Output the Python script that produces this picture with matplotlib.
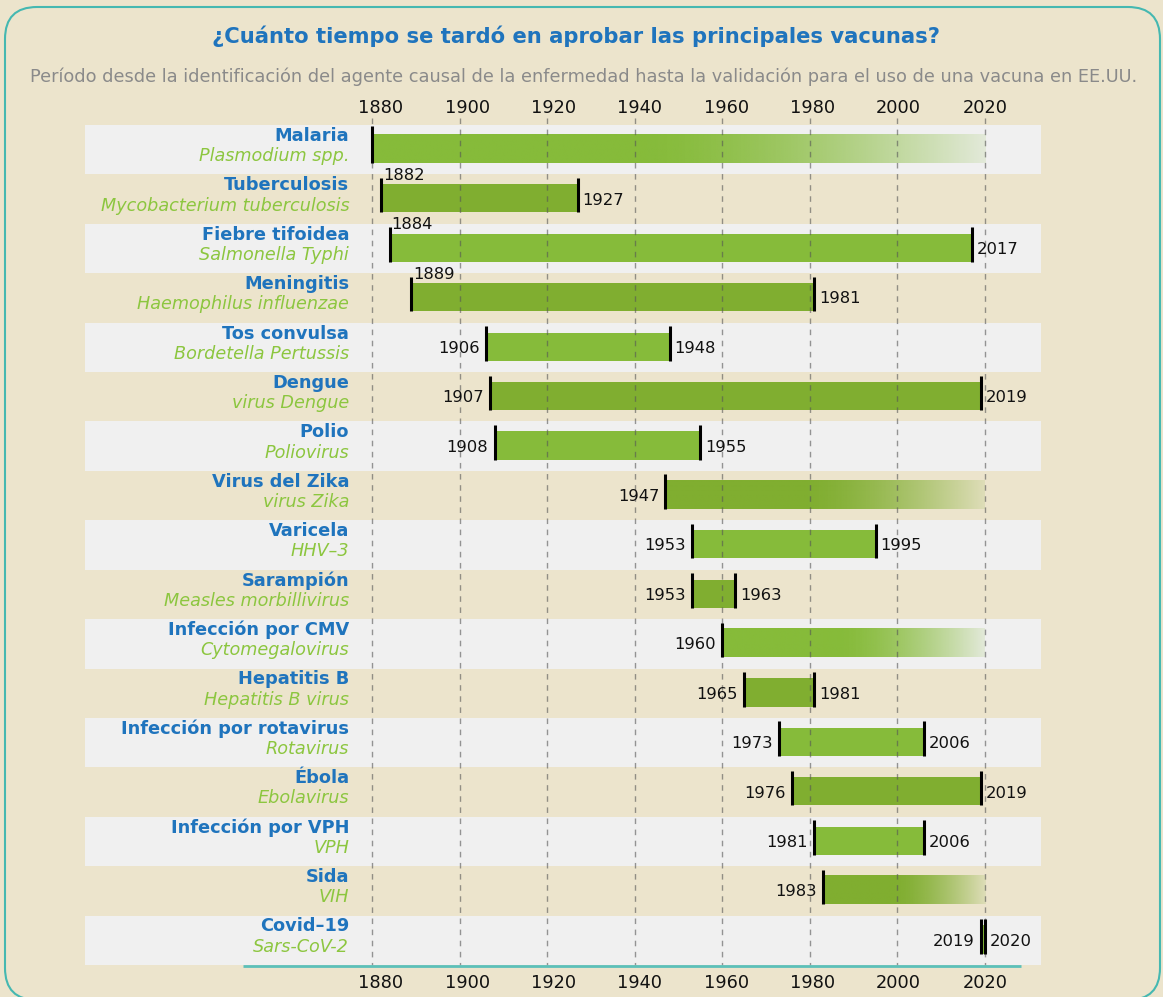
import numpy as np
import matplotlib.pyplot as plt
from matplotlib.patches import FancyBboxPatch
from matplotlib.transforms import IdentityTransform

# datos
enfermedades = ["Malaria", "Tuberculosis", "Fiebre tifoidea", "Meningitis", "Tos convulsa",
                "Dengue", "Polio", "Virus del Zika", "Varicela", "Sarampión",
                "Infección por CMV", "Hepatitis B", "Infección por rotavirus", "Ébola",
                "Infección por VPH", "Sida", "Covid\u201319"]
agentes = ["Plasmodium spp.", "Mycobacterium tuberculosis", "Salmonella Typhi",
           "Haemophilus influenzae", "Bordetella Pertussis", "virus Dengue", "Poliovirus",
           "virus Zika", "HHV\u20133", "Measles morbillivirus", "Cytomegalovirus",
           "Hepatitis B virus", "Rotavirus", "Ebolavirus", "VPH", "VIH", "Sars-CoV-2"]
inicio = [1880, 1882, 1884, 1889, 1906, 1907, 1908, 1947, 1953, 1953, 1960, 1965, 1973,
          1976, 1981, 1983, 2019]
fin = [2020, 1927, 2017, 1981, 1948, 2019, 1955, 2020, 1995, 1963, 2020, 1981, 2006,
       2019, 2006, 2020, 2020]
# sin vacuna aprobada todavia -> barra que se desvanece
abierto = [True, False, False, False, False, False, False, True, False, False, True,
           False, False, False, False, True, False]
# donde va la etiqueta del inicio
pos_etiqueta = ["no", "arriba", "arriba", "arriba"] + ["izq"] * 13
anios_eje = [1880, 1900, 1920, 1940, 1960, 1980, 2000, 2020]

BG = "#ece4cc"
GRIS = "#f0f0f0"
VERDE_CLARO = "#86bb3a"
VERDE_OSCURO = "#80ae30"
AZUL = "#1f74bd"
VERDE_TXT = "#8cc63f"

fig = plt.figure(figsize=(11.63, 9.97), dpi=100, facecolor=BG)
W, H = 1163, 997
ax = fig.add_axes([85 / W, 1 - 965 / H, (1041 - 85) / W, (965 - 125) / H])
ax.set_facecolor("none")
ax.axis("off")

n = len(enfermedades)
y0, y1 = 0.2, 0.77   # barra dentro de la fila
t0 = 0.07            # arranque de las marcas negras

for i in range(n):
    if i % 2 == 0:
        ax.axhspan(i, i + 1, color=GRIS, zorder=0, lw=0)
    col = VERDE_CLARO if i % 2 == 0 else VERDE_OSCURO
    if abierto[i]:
        t = np.linspace(0, 1, 300)
        alpha = np.where(t < 0.45, 1.0, 1 - 0.87 * ((t - 0.45) / 0.55) ** 1.5)
        rgb = np.array(plt.matplotlib.colors.to_rgb(col))
        img = np.zeros((1, len(t), 4))
        img[0, :, :3] = rgb
        img[0, :, 3] = alpha
        ax.imshow(img, extent=[inicio[i], fin[i], i + y1, i + y0], aspect="auto",
                  interpolation="bilinear", zorder=2)
    else:
        ax.barh(i + (y0 + y1) / 2, fin[i] - inicio[i], left=inicio[i], height=y1 - y0,
                color=col, zorder=2, lw=0)
        ax.vlines(fin[i], i + t0, i + y1, color="black", lw=2.2, zorder=4)
        ax.annotate(str(fin[i]), (fin[i], i + 0.52), xytext=(3.5, 0),
                    textcoords="offset points", ha="left", va="center", fontsize=11.8,
                    color="#111111", zorder=5)
    ax.vlines(inicio[i], i + t0 if pos_etiqueta[i] != "no" else i + 0.02, i + y1,
              color="black", lw=2.2, zorder=4)
    if pos_etiqueta[i] == "izq":
        ax.annotate(str(inicio[i]), (inicio[i], i + 0.52), xytext=(-4.5, 0),
                    textcoords="offset points", ha="right", va="center", fontsize=11.8,
                    color="#111111", zorder=5)
    elif pos_etiqueta[i] == "arriba":
        ax.annotate(str(inicio[i]), (inicio[i], i + 0.02), xytext=(1.5, 0),
                    textcoords="offset points", ha="left", va="center", fontsize=11.8,
                    color="#111111", zorder=5)

    ax.text(1874.8, i + 0.22, enfermedades[i], ha="right", va="center", fontsize=12.8,
            fontweight="bold", color=AZUL)
    ax.text(1874.8, i + 0.63, agentes[i], ha="right", va="center", fontsize=12.7,
            style="italic", color=VERDE_TXT)

# lineas de la cuadricula
for a in anios_eje:
    ax.plot([a, a], [-0.15, n], ls=(0, (4, 4)), color="#555555", alpha=0.6, lw=1,
            clip_on=False, zorder=3)
    xl = a + 2.0 * (2020 - a) / 140
    ax.text(xl, -0.35, str(a), ha="center", va="center", fontsize=12.8, color="#111111")
    ax.text(xl, n + 0.36, str(a), ha="center", va="center", fontsize=12.8, color="#111111")

ax.plot([1850.5, 2028.2], [n + 0.02, n + 0.02], color="#5cc0b9", lw=2, clip_on=False,
        zorder=3, solid_capstyle="butt")

ax.set_xlim(1880 - (372 - 85) / 4.379, 1880 + (1041 - 372) / 4.379)
ax.set_ylim(n, 0)

fig.text(0.495, 1 - 36 / H, "¿Cuánto tiempo se tardó en aprobar las principales vacunas?",
         ha="center", va="center", fontsize=15.25, fontweight="bold", color=AZUL)
fig.text(0.502, 1 - 77 / H,
         "Período desde la identificación del agente causal de la enfermedad hasta la "
         "validación para el uso de una vacuna en EE.UU.",
         ha="center", va="center", fontsize=12.8, color="#8a8a8a")

borde = FancyBboxPatch((5, -3), 1155, 993, boxstyle="round,pad=0,rounding_size=32",
                       transform=IdentityTransform(), facecolor="none",
                       edgecolor="#45b8b1", lw=1.5)
fig.patches.append(borde)

fig.savefig("out.png", dpi=100, facecolor=BG)
